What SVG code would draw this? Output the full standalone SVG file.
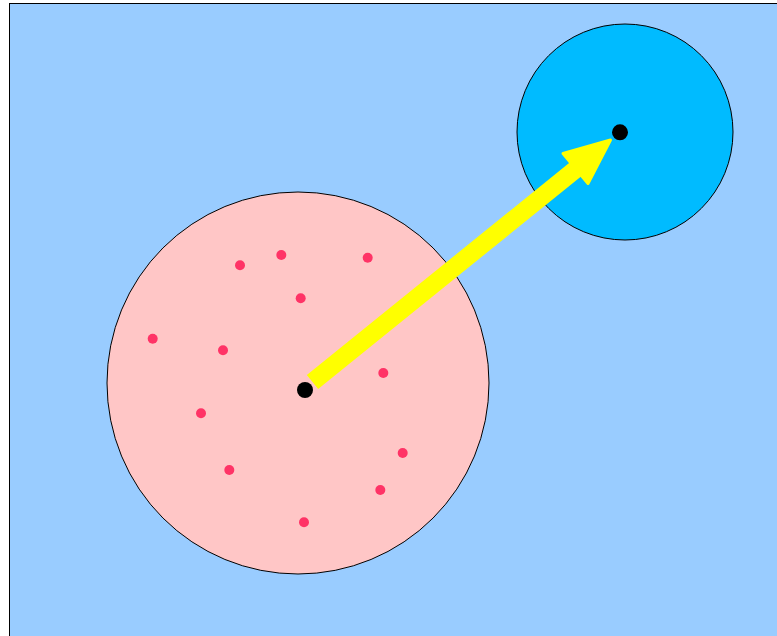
<svg xmlns="http://www.w3.org/2000/svg" width="777" height="636" viewBox="0 0 777 636">
<style>
.dot{fill:#ff3366}
.hub{fill:#000}
.arrow{stroke:#ffff00;fill:#ffff00}
</style>
<rect width="777" height="636" fill="#ffffff"/>
<rect id="background" x="9.5" y="3.5" width="800" height="700" fill="#99ccff" stroke="#000" stroke-width="1"/>
<g id="source">
<circle cx="298" cy="383" r="191" fill="#ffc6c6" stroke="#000" stroke-width="1"/>
<circle class="dot" cx="240" cy="265.3" r="5"/>
<circle class="dot" cx="281.3" cy="255" r="5"/>
<circle class="dot" cx="367.7" cy="257.7" r="5"/>
<circle class="dot" cx="300.7" cy="298.3" r="5"/>
<circle class="dot" cx="152.7" cy="338.7" r="5"/>
<circle class="dot" cx="223" cy="350.3" r="5"/>
<circle class="dot" cx="383.3" cy="373" r="5"/>
<circle class="dot" cx="201" cy="413.3" r="5"/>
<circle class="dot" cx="402.7" cy="453" r="5"/>
<circle class="dot" cx="229.3" cy="470" r="5"/>
<circle class="dot" cx="380.3" cy="490" r="5"/>
<circle class="dot" cx="304" cy="522.3" r="5"/>
<circle class="hub" cx="305" cy="390" r="8"/>
</g>
<g id="target">
<circle cx="625" cy="132" r="108" fill="#00bbff" stroke="#000" stroke-width="1"/>
<circle class="hub" cx="620" cy="132.3" r="8"/>
</g>
<g id="connectors">
<path class="arrow" d="M312.5,382 L576,169" stroke-width="18" fill="none"/>
<polygon class="arrow" points="610.5,140 563,153.5 588,183.5" stroke-width="3" stroke-linejoin="round"/>
</g>
</svg>
